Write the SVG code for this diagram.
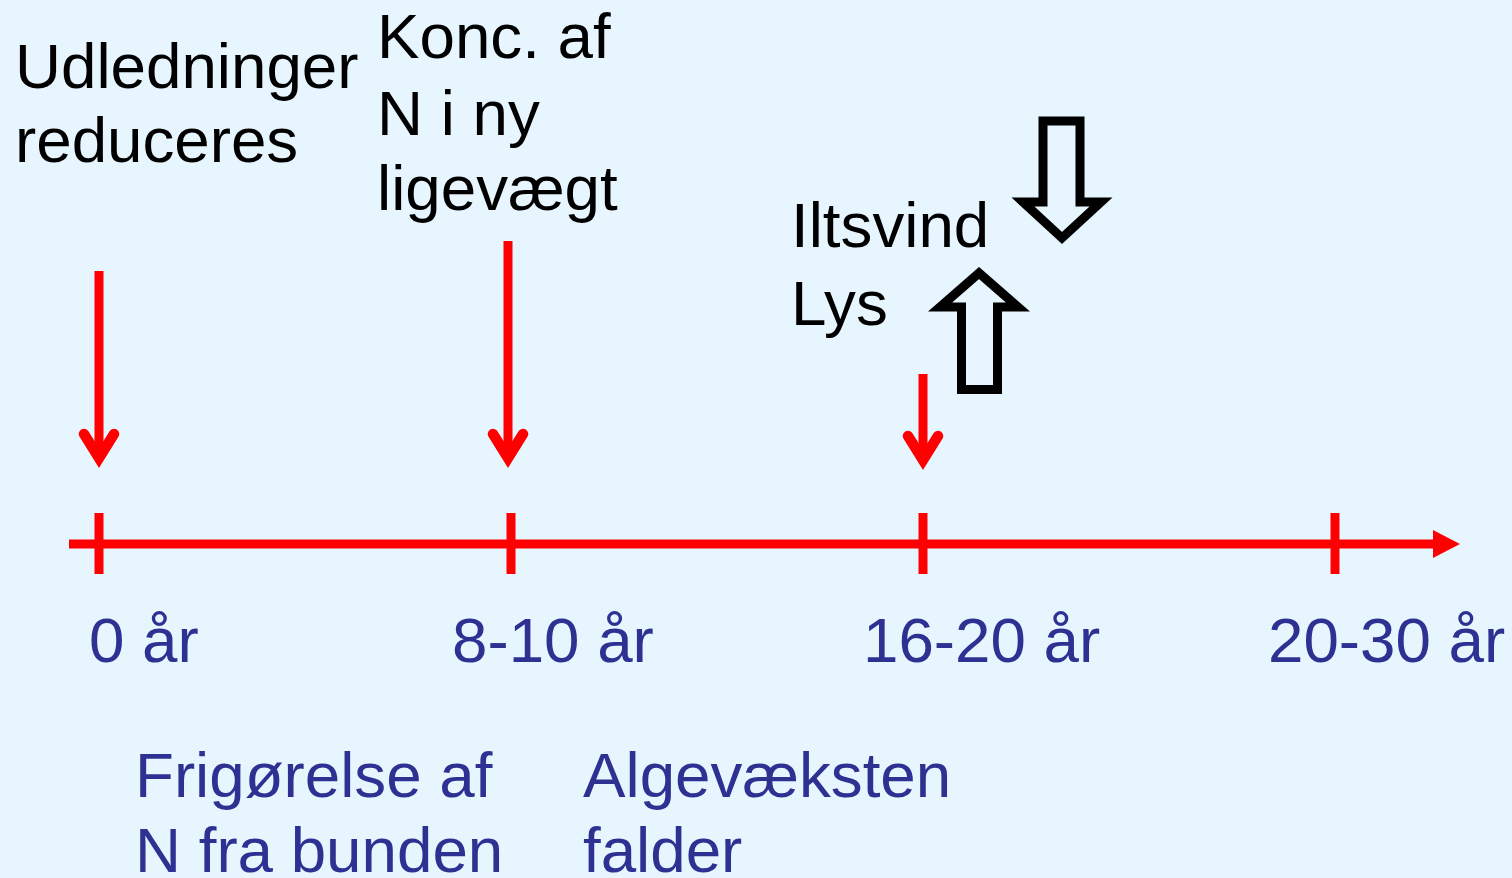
<svg xmlns="http://www.w3.org/2000/svg" width="1512" height="878" viewBox="0 0 1512 878">
<style>
.lbl{font-family:"Liberation Sans",Arial,sans-serif;font-size:63.7px;fill:#000}
.yr{font-family:"Liberation Sans",Arial,sans-serif;font-size:63.7px;fill:#2E3192}
.red{stroke:#FF0000;stroke-width:9;fill:none}
.head{stroke:#FF0000;stroke-width:10.5;fill:none;stroke-linecap:round;stroke-linejoin:miter;stroke-miterlimit:10}
.blk{stroke:#000;stroke-width:9;fill:none;stroke-linejoin:miter;stroke-miterlimit:10}
</style>
<rect width="1512" height="878" fill="#E7F5FE"/>
<g id="axis">
<line class="red" x1="69" y1="544" x2="1436" y2="544"/>
<polygon points="1433,530 1460,544 1433,558" fill="#FF0000"/>
<line class="red" x1="99" y1="513" x2="99" y2="574"/>
<line class="red" x1="511" y1="513" x2="511" y2="574"/>
<line class="red" x1="923" y1="513" x2="923" y2="574"/>
<line class="red" x1="1335" y1="513" x2="1335" y2="574"/>
</g>
<g id="connectors">
<line class="red" x1="99" y1="271" x2="99" y2="456"/>
<path class="head" d="M84 434 L99 458 L114 434"/>
<line class="red" x1="508" y1="241" x2="508" y2="456"/>
<path class="head" d="M493 434 L508 458 L523 434"/>
<line class="red" x1="923" y1="374" x2="923" y2="458"/>
<path class="head" d="M908 436 L923 460 L938 436"/>
</g>
<g id="arrow-down">
<polygon class="blk" points="1043,121 1080,121 1080,202 1101,202 1062,238 1023,202 1043,202"/>
</g>
<g id="arrow-up">
<polygon class="blk" points="979,273 1018,307 997.5,307 997.5,389.5 961.5,389.5 961.5,307 940,307"/>
</g>
<g id="node-udledninger">
<text class="lbl" x="15" y="88">Udledninger</text>
<text class="lbl" x="15" y="162">reduceres</text>
</g>
<g id="node-konc">
<text class="lbl" x="377" y="58">Konc. af</text>
<text class="lbl" x="377" y="135">N i ny</text>
<text class="lbl" x="377" y="210">ligevægt</text>
</g>
<g id="node-iltsvind">
<text class="lbl" x="791" y="247">Iltsvind</text>
<text class="lbl" x="791" y="325">Lys</text>
</g>
<g id="node-years">
<text class="yr" x="89" y="662">0 år</text>
<text class="yr" x="452" y="662">8-10 år</text>
<text class="yr" x="863" y="662">16-20 år</text>
<text class="yr" x="1268" y="662">20-30 år</text>
</g>
<g id="node-frigoerelse">
<text class="yr" x="135" y="797">Frigørelse af</text>
<text class="yr" x="135" y="872">N fra bunden</text>
</g>
<g id="node-algevaeksten">
<text class="yr" x="583" y="797">Algevæksten</text>
<text class="yr" x="583" y="872">falder</text>
</g>
</svg>
